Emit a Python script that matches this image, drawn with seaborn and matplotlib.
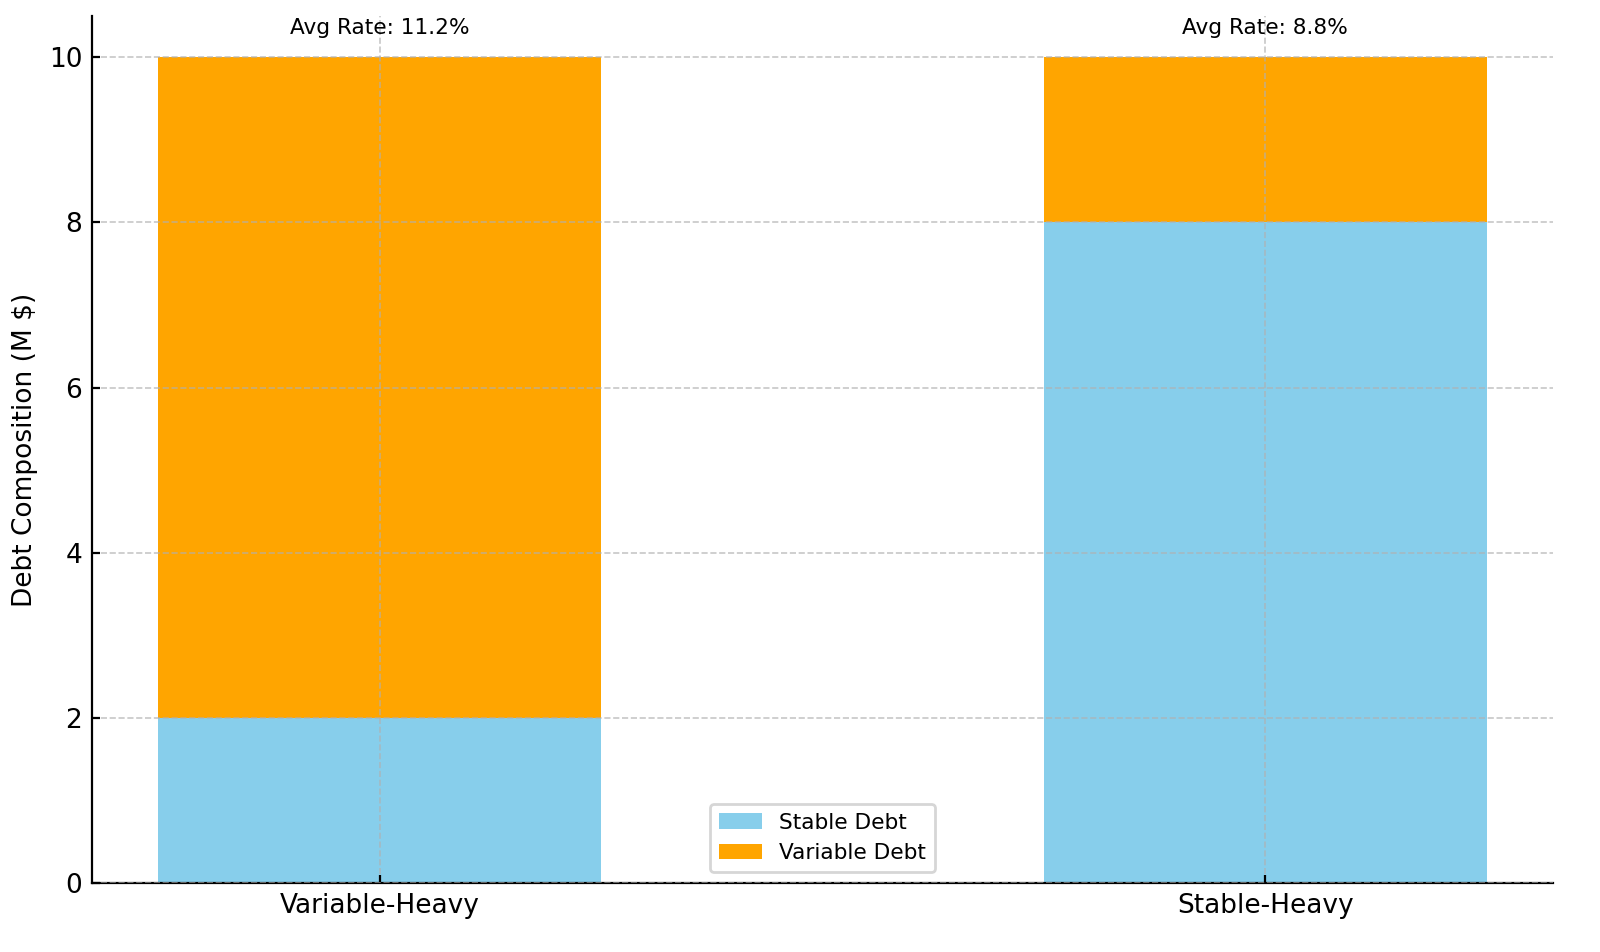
import matplotlib
matplotlib.use("Agg")
import matplotlib.pyplot as plt
import seaborn as sns
import pandas as pd

categories = ["Variable-Heavy", "Stable-Heavy"]
stable_debt = [2, 8]
variable_debt = [8, 2]
avg_rates = [11.2, 8.8]

df = pd.DataFrame({
    "strategy": categories,
    "stable": stable_debt,
    "variable": variable_debt,
})
df["total"] = df["stable"] + df["variable"]

fig, ax = plt.subplots(figsize=(8, 4.76), dpi=200)
fig.subplots_adjust(left=0.0575, right=0.9706, top=0.9832, bottom=0.0725)

sns.barplot(data=df, x="strategy", y="total", color="orange", width=0.5,
            saturation=1, ax=ax, label="Variable Debt", order=categories)
sns.barplot(data=df, x="strategy", y="stable", color="skyblue", width=0.5,
            saturation=1, ax=ax, label="Stable Debt", order=categories)

for p in ax.patches:
    p.set_linewidth(0)

for i, r in enumerate(avg_rates):
    ax.text(i, df["total"][i] + 0.35, f"Avg Rate: {r}%", ha="center", va="center", fontsize=7.8)

ax.set_xlim(-0.325, 1.325)
ax.set_ylim(0, 10.5)
ax.set_xlabel("")
ax.set_ylabel("Debt Composition (M $)", fontsize=9.5)
ax.tick_params(axis="both", labelsize=9.5, direction="in", length=3)
ax.set_axisbelow(False)
ax.grid(True, linestyle="--", alpha=0.7, linewidth=0.6)
ax.spines["top"].set_visible(False)
ax.spines["right"].set_visible(False)

handles, labels = ax.get_legend_handles_labels()
order = [labels.index("Stable Debt"), labels.index("Variable Debt")]
ax.legend([handles[i] for i in order], [labels[i] for i in order],
          loc="lower center", fontsize=7.8)

fig.savefig("out.png", dpi=200)
